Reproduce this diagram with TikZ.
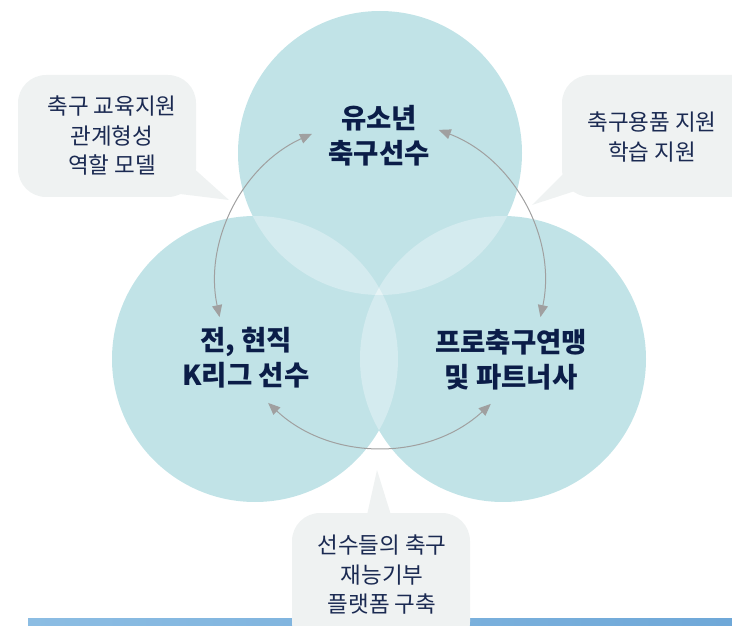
\documentclass[tikz,border=0pt]{standalone}
\usepackage{fontspec}
\setmainfont{Noto Sans CJK KR}
\usetikzlibrary{arrows.meta,calc}
\definecolor{circ}{HTML}{C1E3E7}
\definecolor{lens}{HTML}{D4EBEF}
\definecolor{trip}{HTML}{E6F3F5}
\definecolor{bub}{HTML}{EFF2F2}
\definecolor{navy}{HTML}{0B1D48}
\definecolor{btxt}{HTML}{1B2A52}
\definecolor{arrc}{HTML}{A0A0A0}
\definecolor{barL}{HTML}{8CBDE3}
\definecolor{barR}{HTML}{6FA8D8}
\tikzset{
  ctext/.style={text=navy, align=center, font=\fontsize{27.5}{35}\selectfont\bfseries, inner sep=0pt},
  btext/.style={text=btxt, align=center, font=\fontsize{22.5}{29.5}\selectfont, inner sep=0pt},
  bubshape/.style={fill=bub, rounded corners=28pt},
  arr/.style={draw=arrc, line width=1pt, {Triangle[length=12pt,width=10pt]}-{Triangle[length=12pt,width=10pt]}},
}
\begin{document}
\begin{tikzpicture}[x=1pt,y=1pt]
\useasboundingbox (0,0) rectangle (732,625);
\clip (0,0) rectangle (732,625);
% bottom bar
\shade[left color=barL, right color=barR] (28,0) rectangle (732,7);
% circles
\def\cA{(380,472) circle[radius=142]}
\def\cB{(255,266) circle[radius=143]}
\def\cC{(503,266) circle[radius=143]}
\fill[circ] \cA;
\fill[circ] \cB;
\fill[circ] \cC;
\begin{scope}\clip \cA; \fill[lens] \cB; \end{scope}
\begin{scope}\clip \cA; \fill[lens] \cC; \end{scope}
\begin{scope}\clip \cB; \fill[lens] \cC; \end{scope}
\begin{scope}\clip \cA; \clip \cB; \fill[trip] \cC; \end{scope}
% bubbles
\fill[bub] (190,460) -- (229,425) -- (180,431) -- cycle;
\fill[bubshape] (18,428) rectangle (196,550);
\node[btext] (t1) at (112,489) {축구 교육지원\\관계형성\\역할 모델};
\fill[bub] (564,452) -- (532,420) -- (575,434) -- cycle;
\fill[bubshape] (562,428) rectangle (760,550);
\node[btext] (t2) at (652,488) {축구용품 지원\\학습 지원};
\fill[bub] (367,110) -- (377,155) -- (391,110) -- cycle;
\fill[bubshape] (292,-25) rectangle (470,112);
\node[btext] (t3) at (382,50) {선수들의 축구\\재능기부\\플랫폼 구축};
% circle labels
\node[ctext] (ta) at (379,489) {유소년\\축구선수};
\node[ctext] (tb) at (246,267) {전, 현직\\K리그 선수};
\node[ctext] (tc) at (511,265) {프로축구연맹\\및 파트너사};
% arrows
\coordinate (ac) at (380,342);
\coordinate (a1) at ($(ac)+(192:164)$);
\coordinate (a2) at ($(ac)+(-12:164)$);
\coordinate (a3) at ($(ac)+(227:164)$);
\draw[arr] (a1) arc[start angle=192, end angle=114.5, radius=164];
\draw[arr] (a2) arc[start angle=-12, end angle=69, radius=164];
\draw[arr] (a3) arc[start angle=227, end angle=312.5, radius=164];
\end{tikzpicture}
\end{document}
